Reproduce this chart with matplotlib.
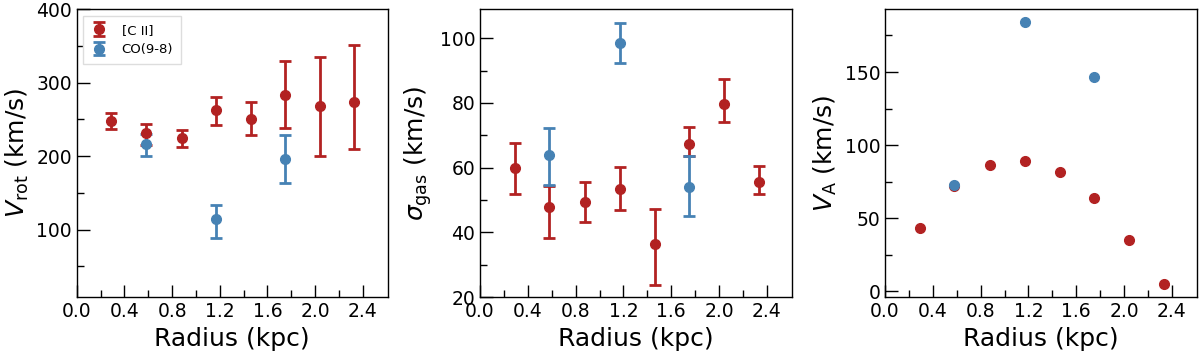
import numpy as np
import matplotlib
matplotlib.use('Agg')
import matplotlib.pyplot as plt

# radii (kpc)
r_cii = [0.29, 0.58, 0.88, 1.17, 1.46, 1.75, 2.04, 2.33]
r_co = [0.58, 1.17, 1.75]

# rotation velocity (km/s) with lower/upper errors
vrot_cii = [248, 231, 225, 263, 250, 283, 268, 273]
vrot_cii_lo = [11, 16, 12, 21, 22, 45, 68, 64]
vrot_cii_hi = [10, 13, 10, 17, 23, 47, 67, 78]
vrot_co = [216, 114, 196]
vrot_co_lo = [16, 26, 33]
vrot_co_hi = [14, 19, 32]

# gas dispersion (km/s)
sig_cii = [59.9, 47.8, 49.3, 53.4, 36.5, 67.3, 79.7, 55.7]
sig_cii_lo = [8.0, 9.6, 6.0, 6.6, 12.8, 3.6, 5.7, 3.7]
sig_cii_hi = [7.8, 6.4, 6.2, 6.7, 10.7, 5.2, 7.8, 4.8]
sig_co = [63.9, 98.5, 54.1]
sig_co_lo = [9.3, 6.1, 9.0]
sig_co_hi = [8.4, 6.2, 9.4]

# Alfven velocity (km/s)
va_cii = [43.4, 72.3, 86.5, 89.3, 81.5, 63.5, 34.9, 4.8]
va_co = [72.6, 184, 146.6]

red = '#b22222'
blue = '#4682b4'

plt.rcParams['font.family'] = 'DejaVu Sans'
plt.rcParams['mathtext.fontset'] = 'dejavusans'

fig = plt.figure(figsize=(12, 3.52), dpi=100)
ax1 = fig.add_axes([0.064, 0.156, 0.259, 0.818])
ax2 = fig.add_axes([0.400, 0.156, 0.260, 0.818])
ax3 = fig.add_axes([0.7375, 0.156, 0.260, 0.818])

ekw = dict(fmt='o', ms=7, elinewidth=2, capsize=4.5, capthick=2)

ax1.errorbar(r_cii, vrot_cii, yerr=[vrot_cii_lo, vrot_cii_hi], color=red, label='[C II]', **ekw)
ax1.errorbar(r_co, vrot_co, yerr=[vrot_co_lo, vrot_co_hi], color=blue, label='CO(9-8)', **ekw)
ax1.set_ylim(8, 400)
ax1.set_yticks([100, 200, 300, 400])
ax1.set_yticks([50, 150, 250, 350], minor=True)
ax1.set_ylabel(r'$V_{\rm rot}$ (km/s)', fontsize=18)
ax1.legend(loc='upper left', fontsize=9.5, fancybox=False, framealpha=1,
           edgecolor='#dddddd', borderpad=0.6, handlelength=1.2, handletextpad=1.1)

ax2.errorbar(r_cii, sig_cii, yerr=[sig_cii_lo, sig_cii_hi], color=red, **ekw)
ax2.errorbar(r_co, sig_co, yerr=[sig_co_lo, sig_co_hi], color=blue, **ekw)
ax2.set_ylim(20, 109)
ax2.set_yticks([20, 40, 60, 80, 100])
ax2.set_yticks([30, 50, 70, 90], minor=True)
ax2.set_ylabel(r'$\sigma_{\rm gas}$ (km/s)', fontsize=18)

ax3.plot(r_cii, va_cii, 'o', color=red, ms=7)
ax3.plot(r_co, va_co, 'o', color=blue, ms=7)
ax3.set_ylim(-4, 193)
ax3.set_yticks([0, 50, 100, 150])
ax3.set_yticks([25, 75, 125, 175], minor=True)
ax3.set_ylabel(r'$V_{\rm A}$ (km/s)', fontsize=18)

for ax in (ax1, ax2, ax3):
    ax.set_xlim(0, 2.61)
    ax.set_xticks(np.arange(0, 2.5, 0.4))
    ax.set_xticks(np.arange(0.2, 2.6, 0.4), minor=True)
    ax.set_xticklabels(['%.1f' % v for v in np.arange(0, 2.5, 0.4)])
    ax.set_xlabel('Radius (kpc)', fontsize=18)
    ax.tick_params(which='major', direction='in', length=9, width=1, labelsize=13.5)
    ax.tick_params(which='minor', direction='in', length=5, width=1)
    for s in ax.spines.values():
        s.set_linewidth(1)

plt.savefig('out.png', dpi=100)
